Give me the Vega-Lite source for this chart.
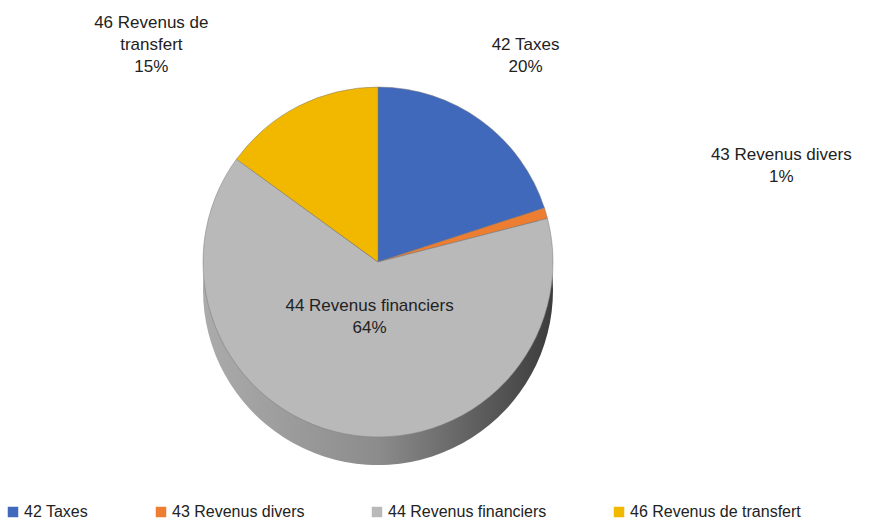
{
  "$schema": "https://vega.github.io/schema/vega-lite/v6.json",
  "width": 756,
  "height": 524,
  "autosize": "none",
  "padding": {"left": 0, "top": 0, "right": 117, "bottom": 0},
  "background": "white",
  "config": {"view": {"stroke": null}, "font": "Liberation Sans"},
  "data": {
    "values": [
      {"cat": "42 Taxes", "pct": 20, "label": "42 Taxes\n20%"},
      {"cat": "43 Revenus divers", "pct": 1, "label": "43 Revenus divers\n1%"},
      {"cat": "44 Revenus financiers", "pct": 64, "label": "44 Revenus financiers\n64%"},
      {"cat": "46 Revenus de transfert", "pct": 15, "label": "46 Revenus de\ntransfert\n15%"}
    ]
  },
  "encoding": {
    "theta": {"field": "pct", "type": "quantitative", "stack": true},
    "order": {"field": "cat", "type": "ordinal"}
  },
  "layer": [
    {
      "mark": {
        "type": "arc",
        "radius": 175,
        "yOffset": 28,
        "fill": {
          "gradient": "linear", "x1": 0, "x2": 1, "y1": 0, "y2": 0,
          "stops": [
            {"offset": 0, "color": "#ababab"},
            {"offset": 0.5, "color": "#8c8c8c"},
            {"offset": 1, "color": "#3c3c3c"}
          ]
        }
      }
    },
    {
      "mark": {"type": "arc", "radius": 175, "stroke": "#7a7a7a", "strokeWidth": 0.5},
      "encoding": {
        "color": {
          "field": "cat",
          "type": "nominal",
          "scale": {
            "domain": ["42 Taxes", "43 Revenus divers", "44 Revenus financiers", "46 Revenus de transfert"],
            "range": ["#4069bc", "#ed7d31", "#b9b9b9", "#f2b800"]
          },
          "legend": {
            "title": null,
            "orient": "none",
            "legendX": 5,
            "legendY": 504,
            "direction": "horizontal",
            "columns": 4,
            "symbolType": "square",
            "symbolSize": 110,
            "symbolStrokeWidth": 0,
            "labelFontSize": 16,
            "labelColor": "#222222",
            "labelFont": "Liberation Sans",
            "labelLimit": 0,
            "columnPadding": 64,
            "symbolOffset": 0,
            "labelOffset": 3
          }
        }
      }
    },
    {
      "mark": {
        "type": "text",
        "lineBreak": "\n",
        "fontSize": 17,
        "lineHeight": 22,
        "color": "#222222",
        "align": "center",
        "baseline": "middle",
        "radius": {"expr": "datum.cat == '43 Revenus divers' ? 420 : datum.cat == '44 Revenus financiers' ? 45 : 268"},
        "dy": {"expr": "datum.cat == '43 Revenus divers' ? 10 : 0"},
        "dx": {"expr": "datum.cat == '46 Revenus de transfert' ? -105 : datum.cat == '42 Taxes' ? -10 : 0"}
      },
      "encoding": {"text": {"field": "label"}}
    }
  ]
}
